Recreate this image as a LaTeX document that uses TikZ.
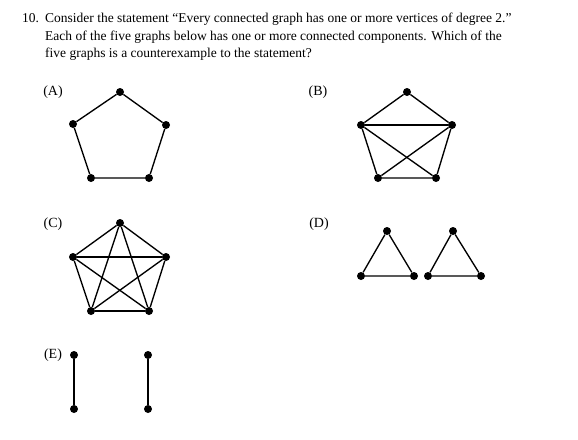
\documentclass[tikz,border=0pt]{standalone}
\usepackage{fontspec}
\setmainfont{Liberation Serif}
\usetikzlibrary{positioning}

\begin{document}
\begin{tikzpicture}[
  x=1pt, y=-1pt,
  font=\fontsize{13.5}{18}\selectfont,
  vertex/.style={circle, fill=black, inner sep=0pt, minimum size=8pt},
  edge/.style={line width=1.35pt},
  label/.style={font=\fontsize{14}{18}\selectfont, inner sep=0pt}
]
  \useasboundingbox (0,0) rectangle (578,439);

  % Question text
  \node (num) at (22,23) [anchor=base west, inner sep=0pt] {10.};
  \node (line1) at (45,23) [anchor=base west, inner sep=0pt] {Consider the statement “Every connected graph has one or more vertices of degree 2.”};
  \node (line2) at (45,40) [anchor=base west, inner sep=0pt] {Each of the five graphs below has one or more connected components. Which of the};
  \node (line3) at (45,57) [anchor=base west, inner sep=0pt] {five graphs is a counterexample to the statement?};

  % Graph labels
  \node [label] (labA) at (53,92) {(A)};
  \node [label] (labB) at (318,92) {(B)};
  \node [label] (labC) at (53,224) {(C)};
  \node [label] (labD) at (319,224) {(D)};
  \node [label] (labE) at (53,355) {(E)};

  % (A) cycle on five vertices
  \foreach \n/\x/\y in {1/120/92, 2/166/125, 3/149/178, 4/91/178, 5/73/124}
    \node [vertex] (a\n) at (\x,\y) {};
  \draw [edge] (a1) -- (a2) -- (a3) -- (a4) -- (a5) -- (a1);

  % (B) pentagon with three chords
  \foreach \n/\x/\y in {1/407/92, 2/452/125, 3/436/178, 4/378/178, 5/361/125}
    \node [vertex] (b\n) at (\x,\y) {};
  \draw [edge] (b1) -- (b2) -- (b3) -- (b4) -- (b5) -- (b1);
  \draw [edge] (b5) -- (b2);
  \draw [edge] (b5) -- (b3);
  \draw [edge] (b2) -- (b4);

  % (C) complete graph on five vertices
  \foreach \n/\x/\y in {1/120/223, 2/166/257, 3/149/311, 4/91/311, 5/73/257}
    \node [vertex] (c\n) at (\x,\y) {};
  \foreach \i/\j in {1/2, 1/3, 1/4, 1/5, 2/3, 2/4, 2/5, 3/4, 3/5, 4/5}
    \draw [edge] (c\i) -- (c\j);

  % (D) two triangles
  \foreach \n/\x/\y in {1/387/231, 2/414/276, 3/361/276, 4/453/231, 5/481/276, 6/428/276}
    \node [vertex] (d\n) at (\x,\y) {};
  \draw [edge] (d1) -- (d2) -- (d3) -- (d1);
  \draw [edge] (d4) -- (d5) -- (d6) -- (d4);

  % (E) two single edges
  \foreach \n/\x/\y in {1/74/355, 2/74/409, 3/148/355, 4/148/409}
    \node [vertex] (e\n) at (\x,\y) {};
  \draw [edge] (e1) -- (e2);
  \draw [edge] (e3) -- (e4);

\end{tikzpicture}
\end{document}
